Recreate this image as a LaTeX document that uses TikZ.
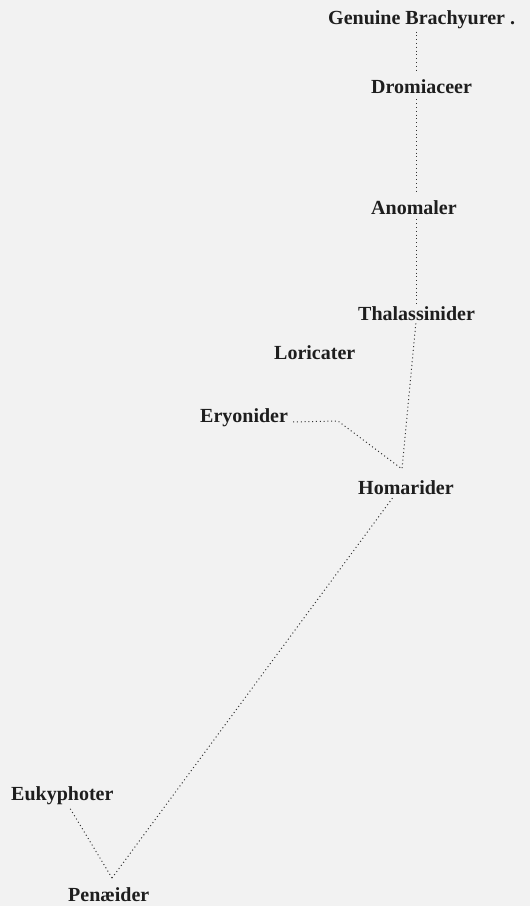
\documentclass[tikz,border=0pt]{standalone}
\usepackage{fontspec}
\setmainfont{Liberation Serif}
\usepackage{xcolor}
\usepackage{tikz}
\usetikzlibrary{arrows.meta}
\definecolor{paper}{RGB}{242,242,242}
\definecolor{ink}{RGB}{30,30,30}

\begin{document}
\begin{tikzpicture}[x=1pt,y=-1pt,
  taxon/.style={anchor=base west,inner sep=1pt,text=ink,font=\fontsize{20}{20}\selectfont\bfseries},
  dotline/.style={draw=black!80,line width=1pt,dash pattern=on 1pt off 2.8pt}]
\fill[paper](0,0)rectangle(530,906);
\useasboundingbox(0,0)rectangle(530,906);
% taxa
\node[taxon](genuine)at(327,24){Genuine Brachyurer .};
\node[taxon](dromiaceer)at(370,93){Dromiaceer};
\node[taxon](anomaler)at(370,214){Anomaler};
\node[taxon](thalassinider)at(357,320){Thalassinider};
\node[taxon](loricater)at(273,359){Loricater};
\node[taxon](eryonider)at(199,422){Eryonider};
\node[taxon](homarider)at(357,494){Homarider};
\node[taxon](eukyphoter)at(10,800){Eukyphoter};
\node[taxon](penaeider)at(67,901){Pen\ae ider};
% forks and bends
\coordinate(trunk)at(416,0);
\coordinate(fork1)at(402,469);
\coordinate(ebend)at(338,421);
\coordinate(fork2)at(112,878);
% stem
\draw[dotline,shorten <=2pt,shorten >=5pt](genuine.south -| trunk)--(dromiaceer.north -| trunk);
\draw[dotline,shorten <=5pt,shorten >=5pt](dromiaceer.south -| trunk)--(anomaler.north -| trunk);
\draw[dotline,shorten <=4pt,shorten >=1pt](anomaler.south -| trunk)--(thalassinider.north -| trunk);
\draw[dotline,shorten <=2pt](thalassinider.south -| trunk)--(fork1);
\draw[dotline,shorten <=2pt](eryonider.base east)++(2,0)--(ebend)--(fork1);
% lower branches
\draw[dotline](fork2)--([xshift=-13pt,yshift=-2pt]homarider.south);
\draw[dotline,shorten >=3pt](fork2)--([xshift=6pt]eukyphoter.south);
\end{tikzpicture}
\end{document}
